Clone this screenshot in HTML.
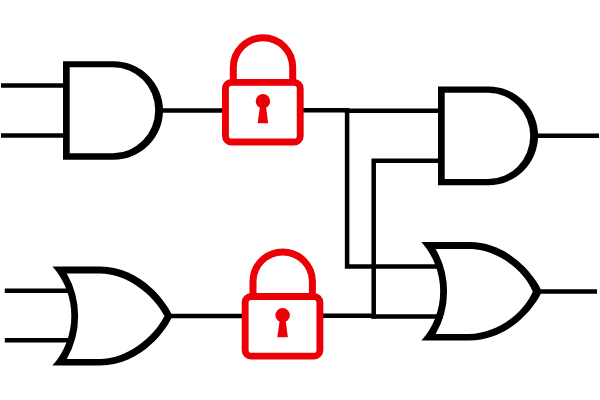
<!DOCTYPE html>
<html>
<head>
<meta charset="utf-8">
<title>Logic locking diagram</title>
<style>
html,body{margin:0;padding:0;background:#fff;}
body{width:600px;height:400px;overflow:hidden;font-family:"Liberation Sans",sans-serif;}
svg{display:block;}
</style>
</head>
<body>
<svg width="600" height="400" viewBox="0 0 600 400">
<rect width="600" height="400" fill="#ffffff"/>
<defs>
  <path id="andg" fill-rule="evenodd" d="M63 61.2 H113.5 A49.5 49.3 0 0 1 113.5 159.8 H63 Z M69.7 67.2 H113 A42.2 43 0 0 1 113 153.2 H69.7 Z"/>
  <path id="org" fill-rule="evenodd" d="M52.5 266.4 H100 C143.1 266.4 168.6 305.6 172.3 315.9 C168.6 326.2 143.1 365.4 100 365.4 H52.5 A74.5 74.5 0 0 0 52.5 266.4 Z M66.75 273.4 H100 C126.1 273.4 152.8 293.6 164.5 316 C152.8 338.7 126.1 358.9 100 358.9 H66.75 A85.9 85.9 0 0 0 66.75 273.4 Z"/>
  <g id="lock">
    <path d="M233.3 80 V67.5 A29.7 29.7 0 0 1 292.7 67.5 V80" fill="none" stroke="#ea0006" stroke-width="7"/>
    <rect x="225.45" y="82.4" width="74.75" height="59.65" rx="6" ry="6" fill="none" stroke="#ea0006" stroke-width="6.9"/>
    <circle cx="262.95" cy="101.15" r="7.2" fill="#ea0006"/>
    <path d="M260.2 105 L265.8 105 L268.2 123.2 L257.6 123.2 Z" fill="#ea0006"/>
  </g>
</defs>

<!-- wires -->
<g fill="none" stroke="#000" stroke-width="4.5" stroke-linejoin="miter">
  <path d="M1 85.5 H64"/>
  <path d="M1 135.4 H64"/>
  <path d="M162 110.4 H223"/>
  <path d="M302 110.3 H349.3"/>
  <path d="M344.9 110.85 H439"/>
  <path d="M347.1 110.85 V266.5 H441"/>
  <path d="M439 160.7 H373.7 V318.6"/>
  <path d="M322 315.7 H375.8"/>
  <path d="M371.4 316.45 H443"/>
  <path d="M4.8 290.7 H70"/>
  <path d="M4.8 340.3 H70"/>
  <path d="M170 315.9 H243"/>
  <path d="M537 135.7 H599"/>
  <path d="M539 291.4 H597"/>
</g>

<!-- gates -->
<g fill="#000" stroke="none">
  <use href="#andg"/>
  <path fill-rule="evenodd" d="M438 86.4 H488.5 A49.6 49.4 0 0 1 488.5 185.2 H438 Z M444.7 92.8 H488 A42.2 43.1 0 0 1 488 179 H444.7 Z"/>
</g>
<g fill="#000" stroke="none">
  <use href="#org"/>
  <path fill-rule="evenodd" d="M421.4 242.1 H469.3 C512.4 242.1 538.1 281.2 541.7 291.4 C538.1 301.6 512.4 340.5 469.3 340.5 H421.4 A73.8 73.8 0 0 0 421.4 242.1 Z M435.65 249 H468.9 C496.5 249 523.5 269.5 532.8 291.5 C523.5 313.5 496.5 334 468.9 334 H435.65 A84.9 84.9 0 0 0 435.65 249 Z"/>
</g>

<!-- locks -->
<use href="#lock"/>
<use href="#lock" transform="translate(19.7 214.1)"/>
</svg>
</body>
</html>
